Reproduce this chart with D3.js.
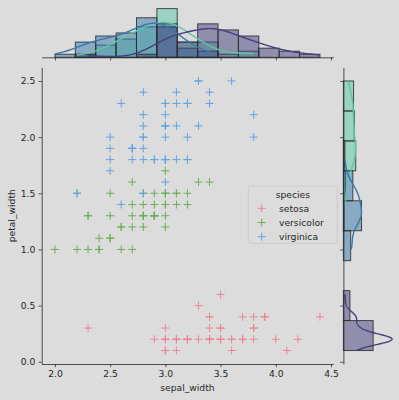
<!DOCTYPE html>
<html><head><meta charset="utf-8">
<script src="https://cdn.jsdelivr.net/npm/d3@7"></script>
<style>body{margin:0;background:#dcdcdc}svg{display:block}</style>
</head><body><svg id="c" width="399" height="400"></svg>
<script>
const species = ["setosa", "versicolor", "virginica"];
const setosaSepalWidth = [3.5,3.0,3.2,3.1,3.6,3.9,3.4,3.4,2.9,3.1,3.7,3.4,3.0,3.0,4.0,4.4,3.9,3.5,3.8,3.8,3.4,3.7,3.6,3.3,3.4,3.0,3.4,3.5,3.4,3.2,3.1,3.4,4.1,4.2,3.1,3.2,3.5,3.6,3.0,3.4,3.5,2.3,3.2,3.5,3.8,3.0,3.8,3.2,3.7,3.3];
const setosaPetalWidth = [0.2,0.2,0.2,0.2,0.2,0.4,0.3,0.2,0.2,0.1,0.2,0.2,0.1,0.1,0.2,0.4,0.4,0.3,0.3,0.3,0.2,0.4,0.2,0.5,0.2,0.2,0.4,0.2,0.2,0.2,0.2,0.4,0.1,0.2,0.2,0.2,0.2,0.1,0.2,0.2,0.3,0.3,0.2,0.6,0.4,0.3,0.2,0.2,0.2,0.2];
const versicolorSepalWidth = [3.2,3.2,3.1,2.3,2.8,2.8,3.3,2.4,2.9,2.7,2.0,3.0,2.2,2.9,2.9,3.1,3.0,2.7,2.2,2.5,3.2,2.8,2.5,2.8,2.9,3.0,2.8,3.0,2.9,2.6,2.4,2.4,2.7,2.7,3.0,3.4,3.1,2.3,3.0,2.5,2.6,3.0,2.6,2.3,2.7,3.0,2.9,2.9,2.5,2.8];
const versicolorPetalWidth = [1.4,1.5,1.5,1.3,1.5,1.3,1.6,1.0,1.3,1.4,1.0,1.5,1.0,1.4,1.3,1.4,1.5,1.0,1.5,1.1,1.8,1.3,1.5,1.2,1.3,1.4,1.4,1.7,1.5,1.0,1.1,1.0,1.2,1.6,1.5,1.6,1.5,1.3,1.3,1.3,1.2,1.4,1.2,1.0,1.3,1.2,1.3,1.3,1.1,1.3];
const virginicaSepalWidth = [3.3,2.7,3.0,2.9,3.0,3.0,2.5,2.9,2.5,3.6,3.2,2.7,3.0,2.5,2.8,3.2,3.0,3.8,2.6,2.2,3.2,2.8,2.8,2.7,3.3,3.2,2.8,3.0,2.8,3.0,2.8,3.8,2.8,2.8,2.6,3.0,3.4,3.1,3.0,3.1,3.1,3.1,2.7,3.2,3.3,3.0,2.5,3.0,3.4,3.0];
const virginicaPetalWidth = [2.5,1.9,2.1,1.8,2.2,2.1,1.7,1.8,1.8,2.5,2.0,1.9,2.1,2.0,2.4,2.3,1.8,2.2,2.3,1.5,2.3,2.0,2.0,1.8,2.1,1.8,1.8,1.8,2.1,1.6,1.9,2.0,2.2,1.5,1.4,2.3,2.4,1.8,1.8,2.1,2.4,2.3,1.9,2.3,2.5,2.3,1.9,2.0,2.3,1.8];
const xTicks = [2.0, 2.5, 3.0, 3.5, 4.0, 4.5];
const yTicks = [0.0, 0.5, 1.0, 1.5, 2.0, 2.5];
const xBinCount = 13;
const yBinCount = 9;
const xLabel = "sepal_width", yLabel = "petal_width", legendTitle = "species";
const scatterColors = ["#ec8593", "#6aae57", "#62a3e2"];
const margColors = ["#453f7d", "#3878aa", "#5ac8a6"];

const sepal = [setosaSepalWidth, versicolorSepalWidth, virginicaSepalWidth];
const petal = [setosaPetalWidth, versicolorPetalWidth, virginicaPetalWidth];
const allX = sepal.flat(), allY = petal.flat();

const svg = d3.select("#c");
const FONT = "DejaVu Sans, sans-serif";
const TXT = "#262626";
const fs = 9.2;

// layout
const jx0 = 41.7, jx1 = 333.2, jy0 = 67.5, jy1 = 364;
const gap = 10.2, mSize = 51.1;
const tx0 = jx0, tx1 = jx1, ty0 = jy0 - gap - mSize, ty1 = jy0 - gap;
const rx0 = jx1 + gap, rx1 = jx1 + gap + mSize;

function padded(ext) { const r = ext[1] - ext[0]; return [ext[0] - 0.05 * r, ext[1] + 0.05 * r]; }
const x = d3.scaleLinear().domain(padded(d3.extent(allX))).range([jx0, jx1]);
const y = d3.scaleLinear().domain(padded(d3.extent(allY))).range([jy1, jy0]);

function edges(vals, n) {
  const [a, b] = d3.extent(vals);
  return d3.range(n + 1).map(k => +(a + k * (b - a) / n).toFixed(9));
}
const xEdges = edges(allX, xBinCount);
const yEdges = edges(allY, yBinCount);
function hist(vals, e) {
  return d3.bin().domain([e[0], e[e.length - 1]]).thresholds(e.slice(1, -1))(vals);
}
function kde(vals, binw) {
  const n = vals.length, sd = d3.deviation(vals);
  const bw = sd * Math.pow(n, -0.2);
  const [a, b] = d3.extent(vals);
  return d3.range(200).map(i => {
    const t = a + (b - a) * i / 199;
    let s = 0;
    for (const v of vals) { const z = (t - v) / bw; s += Math.exp(-0.5 * z * z); }
    return [t, s / (n * bw * Math.sqrt(2 * Math.PI)) * n * binw];
  });
}
const xBw = xEdges[1] - xEdges[0], yBw = yEdges[1] - yEdges[0];
const xHists = sepal.map(v => hist(v, xEdges));
const yHists = petal.map(v => hist(v, yEdges));
const xKdes = sepal.map(v => kde(v, xBw));
const yKdes = petal.map(v => kde(v, yBw));
const topMax = Math.max(d3.max(xHists.flat(), b => b.length), d3.max(xKdes.flat(), p => p[1])) * 1.05;
const rightMax = Math.max(d3.max(yHists.flat(), b => b.length), d3.max(yKdes.flat(), p => p[1])) * 1.05;
const ty = d3.scaleLinear().domain([0, topMax]).range([ty1, ty0]);
const rxs = d3.scaleLinear().domain([0, rightMax]).range([rx0, rx1]);

// marginals
const gTop = svg.append("g");
const gRight = svg.append("g");
for (let s = 2; s >= 0; s--) {
  gTop.append("g").selectAll("rect").data(xHists[s].filter(b => b.length > 0)).join("rect")
    .attr("x", b => x(b.x0)).attr("width", b => x(b.x1) - x(b.x0))
    .attr("y", b => ty(b.length)).attr("height", b => ty(0) - ty(b.length))
    .attr("fill", margColors[s]).attr("fill-opacity", 0.5)
    .attr("stroke", "#2b2b2b").attr("stroke-opacity", 0.85).attr("stroke-width", 1);
  gRight.append("g").selectAll("rect").data(yHists[s].filter(b => b.length > 0)).join("rect")
    .attr("y", b => y(b.x1)).attr("height", b => y(b.x0) - y(b.x1))
    .attr("x", rxs(0)).attr("width", b => rxs(b.length) - rxs(0))
    .attr("fill", margColors[s]).attr("fill-opacity", 0.5)
    .attr("stroke", "#2b2b2b").attr("stroke-opacity", 0.85).attr("stroke-width", 1);
}
for (let s = 2; s >= 0; s--) {
  gTop.append("path").datum(xKdes[s])
    .attr("d", d3.line().x(p => x(p[0])).y(p => ty(p[1])))
    .attr("fill", "none").attr("stroke", margColors[s]).attr("stroke-width", 1.4);
  gRight.append("path").datum(yKdes[s])
    .attr("d", d3.line().x(p => rxs(p[1])).y(p => y(p[0])))
    .attr("fill", "none").attr("stroke", margColors[s]).attr("stroke-width", 1.4);
}

function styleAxis(g) {
  g.selectAll(".domain").attr("stroke", TXT).attr("stroke-width", 0.8);
  g.selectAll(".tick line").attr("stroke", TXT).attr("stroke-width", 0.75);
  g.selectAll("text").attr("fill", TXT).style("font-family", FONT).style("font-size", fs + "px");
}
const tk = d3.format(".1f");
styleAxis(svg.append("g").attr("transform", `translate(0,${ty1})`)
  .call(d3.axisBottom(x).tickValues(xTicks).tickFormat("").tickSize(3.2).tickSizeOuter(0)));
styleAxis(svg.append("g").attr("transform", `translate(${rx0},0)`)
  .call(d3.axisLeft(y).tickValues(yTicks).tickFormat("").tickSize(3.2).tickSizeOuter(0)));

// joint axes
styleAxis(svg.append("g").attr("transform", `translate(0,${jy1})`)
  .call(d3.axisBottom(x).tickValues(xTicks).tickFormat(tk).tickSize(3.2).tickPadding(3.2).tickSizeOuter(0)));
styleAxis(svg.append("g").attr("transform", `translate(${jx0},0)`)
  .call(d3.axisLeft(y).tickValues(yTicks).tickFormat(tk).tickSize(3.2).tickPadding(3.2).tickSizeOuter(0)));

svg.append("text").attr("x", (jx0 + jx1) / 2).attr("y", 390.5).attr("text-anchor", "middle")
  .attr("fill", TXT).style("font-family", FONT).style("font-size", fs + "px").text(xLabel);
svg.append("text").attr("transform", `translate(15,${(jy0 + jy1) / 2}) rotate(-90)`).attr("text-anchor", "middle")
  .attr("fill", TXT).style("font-family", FONT).style("font-size", fs + "px").text(yLabel);

// scatter
const h = 4;
const gPts = svg.append("g");
species.forEach((sp, s) => {
  gPts.append("g").selectAll("path").data(d3.zip(sepal[s], petal[s])).join("path")
    .attr("d", d => { const cx = x(d[0]), cy = y(d[1]); return `M${cx - h},${cy}H${cx + h}M${cx},${cy - h}V${cy + h}`; })
    .attr("stroke", scatterColors[s]).attr("stroke-width", 1).attr("fill", "none");
});

// legend
const lg = svg.append("g");
lg.append("rect").attr("x", 248.3).attr("y", 186).attr("width", 89).attr("height", 57.3).attr("rx", 2.5)
  .attr("fill", "#dcdcdc").attr("fill-opacity", 0.8).attr("stroke", "#c8c8c8").attr("stroke-width", 0.8);
lg.append("text").attr("x", 292.8).attr("y", 194.5).attr("text-anchor", "middle").attr("dominant-baseline", "central")
  .attr("fill", TXT).style("font-family", FONT).style("font-size", fs + "px").text(legendTitle);
species.forEach((sp, s) => {
  const yy = 208.3 + s * 14.2;
  lg.append("path").attr("d", `M${261.7 - h},${yy}H${261.7 + h}M${261.7},${yy - h}V${yy + h}`)
    .attr("stroke", scatterColors[s]).attr("stroke-width", 1).attr("fill", "none");
  lg.append("text").attr("x", 279).attr("y", yy).attr("dominant-baseline", "central")
    .attr("fill", TXT).style("font-family", FONT).style("font-size", fs + "px").text(sp);
});
</script></body></html>
